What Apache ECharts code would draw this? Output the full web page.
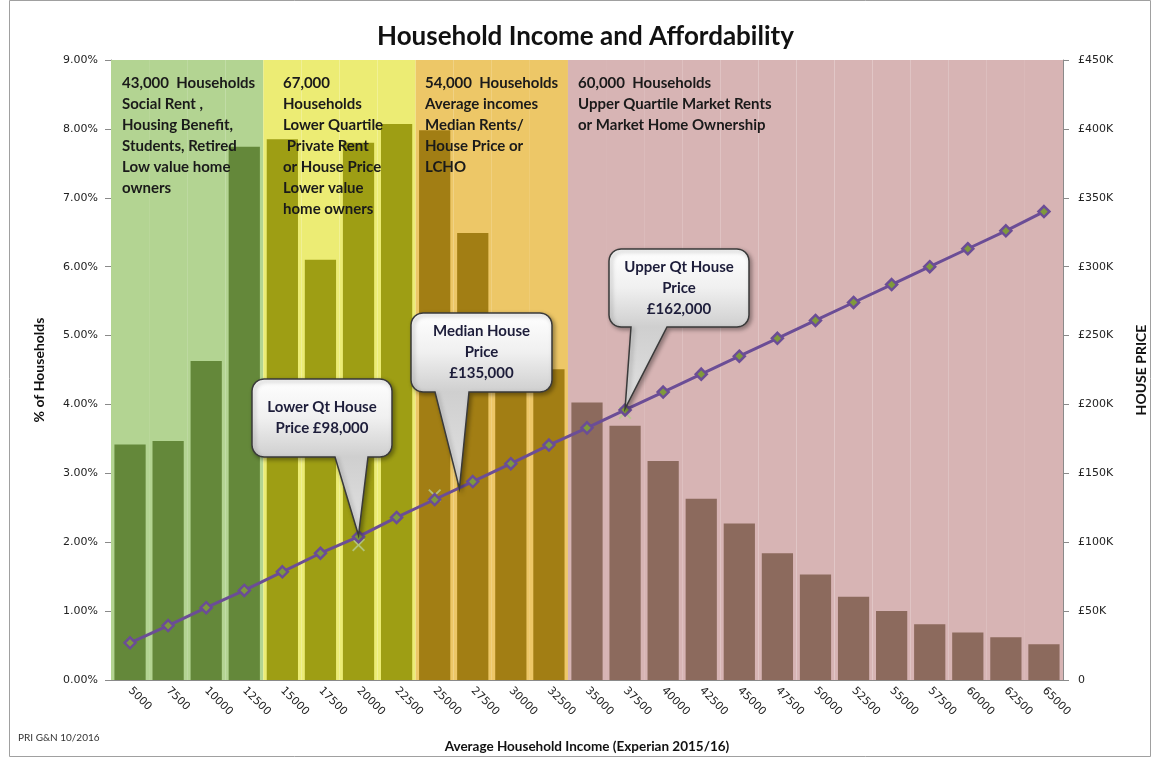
<!DOCTYPE html>
<html><head><meta charset="utf-8">
<script src="https://cdn.jsdelivr.net/npm/echarts@6/dist/echarts.min.js"></script>
<style>html,body{margin:0;padding:0;background:#fff}#c{width:1153px;height:758px}</style>
</head><body><div id="c"></div>
<script>
// ---------- data ----------
const categories = ['5000','7500','10000','12500','15000','17500','20000','22500','25000','27500','30000','32500','35000','37500','40000','42500','45000','47500','50000','52500','55000','57500','60000','62500','65000'];
const householdsPct = [3.42,3.47,4.63,7.74,7.85,6.10,7.80,8.07,7.98,6.49,5.12,4.51,4.03,3.69,3.18,2.63,2.27,1.84,1.53,1.21,1.00,0.81,0.69,0.62,0.52];
const housePriceK = [27,39.5,52.5,65,78.5,92,104,118,131,144,157,170.5,183,196,209,222,235,248,261,274,287,300,313,326,340];
const refPointCats = ['20000','25000','37500'];
const refPointK = [98,134,194];
const groupStartCats = ['5000','15000','25000','35000'];
const groupTexts = [
  '43,000  Households\nSocial Rent ,\nHousing Benefit,\nStudents, Retired\nLow value home\nowners',
  '67,000\nHouseholds\nLower Quartile\n Private Rent\nor House Price\nLower value\nhome owners',
  '54,000  Households\nAverage incomes\nMedian Rents/\nHouse Price or\nLCHO',
  '60,000  Households\nUpper Quartile Market Rents\nor Market Home Ownership'
];
const calloutTexts = ['Lower Qt House\nPrice £98,000', 'Median House\nPrice\n£135,000', 'Upper Qt House\nPrice\n£162,000'];
// callout tips: [category position (index), house price £K]
const calloutTips = [[6, 105], [8.65, 139], [13, 197]];
const leftAxisMax = 9, leftAxisStep = 1;
const rightAxisMax = 450, rightAxisStep = 50;

// ---------- styles ----------
const bandColors = ['#b3d492', '#ecec74', '#edc767', '#d7b4b4'];
const barColors  = ['#64883a', '#9e9e14', '#a27e14', '#8c6a5d'];
const groupStartIdx = groupStartCats.map(c => categories.indexOf(c));
const groupOf = i => { let g = 0; groupStartIdx.forEach((s, k) => { if (i >= s) g = k; }); return g; };

const chart = echarts.init(document.getElementById('c'));
const axisFont = 'DejaVu Sans';
const labelFont = 'Lato';

const option = {
  animation: false,
  backgroundColor: '#fff',
  title: {
    text: 'Household Income and Affordability',
    left: 372, top: 19,
    textStyle: { fontFamily: labelFont, fontWeight: 'bold', fontSize: 26, color: '#111' }
  },
  grid: { left: 111, top: 60, right: 90, bottom: 78, containLabel: false, outerBoundsMode: 'none' },
  xAxis: [{
    type: 'category', data: categories, position: 'bottom',
    axisLine: { lineStyle: { color: '#8a8a8a' } },
    axisTick: { alignWithLabel: false, length: 5, lineStyle: { color: '#8a8a8a' } },
    axisLabel: { rotate: -45, interval: 0, margin: 9, fontFamily: axisFont, fontSize: 11, color: '#222' },
    name: 'Average Household Income (Experian 2015/16)', nameLocation: 'middle', nameGap: 60,
    nameTextStyle: { fontFamily: labelFont, fontWeight: 'bold', fontSize: 13.5, color: '#111' }
  }, {
    type: 'category', data: categories, show: false
  }],
  yAxis: [{
    type: 'value', min: 0, max: leftAxisMax, interval: leftAxisStep, position: 'left',
    axisLine: { show: true, lineStyle: { color: '#8a8a8a' } },
    axisTick: { show: true, length: 6, lineStyle: { color: '#8a8a8a' } },
    splitLine: { show: false },
    axisLabel: { formatter: v => v.toFixed(2) + '%', margin: 13, fontFamily: axisFont, fontSize: 11, color: '#222' },
    name: '% of Households', nameLocation: 'middle', nameGap: 65, nameRotate: 90,
    nameTextStyle: { fontFamily: labelFont, fontWeight: 'bold', fontSize: 14, color: '#111' }
  }, {
    type: 'value', min: 0, max: rightAxisMax, interval: rightAxisStep, position: 'right',
    axisLine: { show: true, lineStyle: { color: '#8a8a8a' } },
    axisTick: { show: true, length: 6, lineStyle: { color: '#8a8a8a' } },
    splitLine: { show: false },
    axisLabel: { formatter: v => v === 0 ? '0' : '£' + v + 'K', margin: 15, fontFamily: axisFont, fontSize: 11, color: '#222' },
    name: 'HOUSE PRICE', nameLocation: 'middle', nameGap: 71, nameRotate: 90,
    nameTextStyle: { fontFamily: labelFont, fontWeight: 'bold', fontSize: 14, color: '#111' }
  }],
  series: [{
    name: 'bands', type: 'bar', xAxisIndex: 1, yAxisIndex: 0, silent: true, z: 1,
    barCategoryGap: '0%', barWidth: '100%',
    data: categories.map(() => leftAxisMax),
    itemStyle: { color: p => bandColors[groupOf(p.dataIndex)] }
  }, {
    name: '% of Households', type: 'bar', xAxisIndex: 0, yAxisIndex: 0, z: 2,
    barCategoryGap: '18%',
    data: householdsPct,
    itemStyle: { color: p => barColors[groupOf(p.dataIndex)] }
  }, {
    name: 'Reference', type: 'scatter', xAxisIndex: 0, yAxisIndex: 1, z: 3,
    data: refPointCats.map((c, i) => [c, refPointK[i]]),
    symbol: 'path://M0,1L1,0L5,4L9,0L10,1L6,5L10,9L9,10L5,6L1,10L0,9L4,5Z',
    symbolSize: 13,
    itemStyle: { color: '#b5c98a', opacity: 0.85 }
  }, {
    name: 'House price', type: 'line', xAxisIndex: 0, yAxisIndex: 1, z: 4,
    data: housePriceK,
    lineStyle: { color: '#6b4d96', width: 3 },
    symbol: 'diamond', symbolSize: 11, showAllSymbol: true,
    itemStyle: { color: '#7f9a3c', borderColor: '#6b4d96', borderWidth: 2.5 }
  }]
};
chart.setOption(option);

// ---------- annotations ----------
function px(catPos, valK) {
  const i0 = Math.floor(catPos), f = catPos - i0;
  const p0 = chart.convertToPixel({ xAxisIndex: 0, yAxisIndex: 1 }, [categories[i0], valK]);
  if (f === 0) return p0;
  const p1 = chart.convertToPixel({ xAxisIndex: 0, yAxisIndex: 1 }, [categories[i0 + 1], valK]);
  return [p0[0] + (p1[0] - p0[0]) * f, p0[1]];
}
function calloutPoints(x, y, w, h, r, b0, b1, tip) {
  const pts = [];
  const arc = (cx, cy, a0, a1) => { for (let i = 0; i <= 6; i++) { const a = a0 + (a1 - a0) * i / 6; pts.push([cx + r * Math.cos(a), cy + r * Math.sin(a)]); } };
  arc(x + r, y + r, Math.PI, 1.5 * Math.PI);
  arc(x + w - r, y + r, 1.5 * Math.PI, 2 * Math.PI);
  arc(x + w - r, y + h - r, 0, 0.5 * Math.PI);
  pts.push([b1, y + h]); pts.push(tip); pts.push([b0, y + h]);
  arc(x + r, y + h - r, 0.5 * Math.PI, Math.PI);
  return pts;
}
const boxes = [
  { x: 252, y: 379, w: 140, h: 78, b0: 83, b1: 116 },
  { x: 411, y: 313, w: 141, h: 79, b0: 24, b1: 58 },
  { x: 609, y: 249, w: 140, h: 78, b0: 22, b1: 58 }
];
const textX = [122, 283, 425, 578];
const elements = [];
elements.push({ type: 'rect', shape: { x: 9.5, y: 0.5, width: 1141, height: 756 }, style: { fill: 'none', stroke: '#a0a0a0', lineWidth: 1 }, z: 0, silent: true });
groupTexts.forEach((t, i) => {
  elements.push({ type: 'text', x: textX[i], y: 73, z: 100, silent: true,
    style: { text: t, align: 'left', verticalAlign: 'top', font: 'bold 15px Lato', lineHeight: 21, fill: '#1a1a1a' } });
});
boxes.forEach((b, i) => {
  const tpx = px(calloutTips[i][0], 0)[0];
  const tpy = chart.convertToPixel({ yAxisIndex: 1 }, calloutTips[i][1]);
  const pts = calloutPoints(b.x, b.y, b.w, b.h, 12, b.x + b.b0, b.x + b.b1, [tpx, tpy]);
  const frac = b.h / (tpy - b.y);
  elements.push({ type: 'polygon', z: 100, silent: true, shape: { points: pts },
    style: {
      fill: new echarts.graphic.LinearGradient(0, 0, 0, 1, [
        { offset: 0, color: '#ffffff' }, { offset: frac * 0.5, color: '#f0f0f0' }, { offset: frac, color: '#cfcfcf' }, { offset: 1, color: '#e2e2e2' }]),
      stroke: '#3a3a3a', lineWidth: 1.5,
      shadowBlur: 4, shadowColor: 'rgba(0,0,0,0.35)', shadowOffsetX: 2, shadowOffsetY: 2
    } });
  elements.push({ type: 'text', z: 101, silent: true, x: b.x + b.w / 2, y: b.y + b.h / 2,
    style: { text: calloutTexts[i], align: 'center', verticalAlign: 'middle', font: 'bold 15px Lato', lineHeight: 21, fill: '#1d1d3a' } });
});
elements.push({ type: 'text', x: 18, y: 738, silent: true, style: { text: 'PRI G&N 10/2016', align: 'left', verticalAlign: 'middle', font: '10px Lato', fill: '#333' } });
chart.setOption({ graphic: { elements } });
</script>
</body></html>
